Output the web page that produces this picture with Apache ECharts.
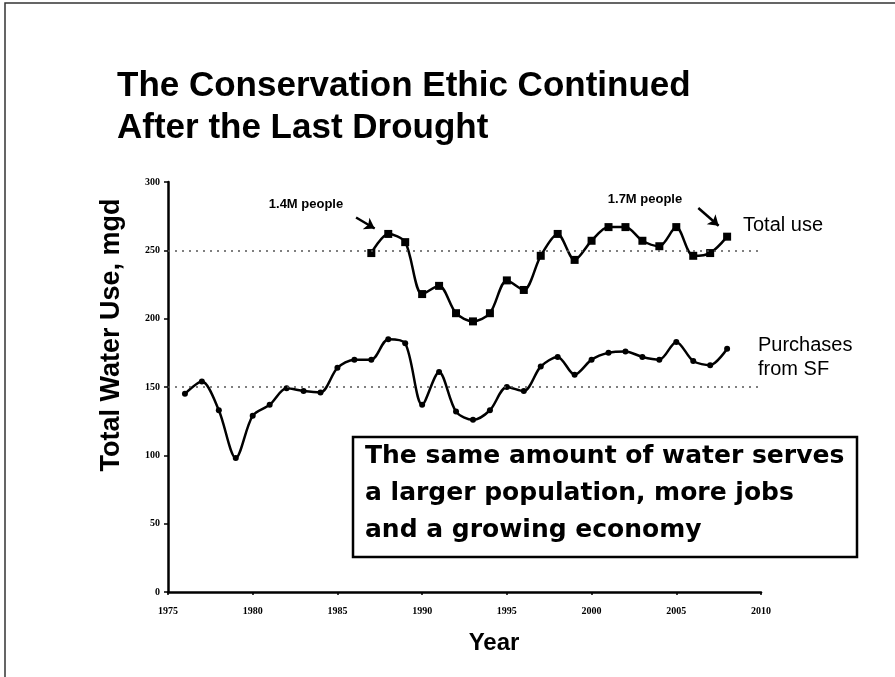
<!DOCTYPE html>
<html>
<head>
<meta charset="utf-8">
<script src="https://cdn.jsdelivr.net/npm/echarts@6/dist/echarts.min.js"></script>
<style>
  html, body { margin: 0; padding: 0; background: #fff; }
  #chart { width: 895px; height: 677px; }
</style>
</head>
<body>
<div id="chart"></div>
<script>
// purchases from SF, mgd
const purchaseYears = [1976, 1977, 1978, 1979, 1980, 1981, 1982, 1983, 1984, 1985, 1986,
  1987, 1988, 1989, 1990, 1991, 1992, 1993, 1994, 1995, 1996, 1997, 1998, 1999,
  2000, 2001, 2002, 2003, 2004, 2005, 2006, 2007, 2008];
const purchases = [145, 154, 133, 98, 129, 137, 149, 147, 146, 164, 170,
  170, 185, 182, 137, 161, 132, 126, 133, 150, 147, 165, 172, 159,
  170, 175, 176, 172, 170, 183, 169, 166, 178];

// total use, mgd
const totalYears = [1987, 1988, 1989, 1990, 1991, 1992, 1993, 1994, 1995, 1996, 1997,
  1998, 1999, 2000, 2001, 2002, 2003, 2004, 2005, 2006, 2007, 2008];
const totalUse = [248, 262, 256, 218, 224, 204, 198, 204, 228, 221, 246,
  262, 243, 257, 267, 267, 257, 253, 267, 246, 248, 260];

const refLines = [150, 250];
const arrows = [
  [[1986.1, 274], [1987.2, 266]],
  [[2006.3, 281], [2007.5, 268]]
];

const chart = echarts.init(document.getElementById("chart"));

const pair = (xs, ys) => xs.map((x, i) => [x, ys[i]]);

chart.setOption({
  animation: false,
  backgroundColor: "#fff",
  grid: { left: 168, right: 134, top: 182, bottom: 85 },
  xAxis: {
    type: "value",
    min: 1975,
    max: 2010,
    interval: 5,
    axisLine: { onZero: false, lineStyle: { color: "#000", width: 2.5 } },
    axisTick: { show: true, length: 3, lineStyle: { color: "#000", width: 1.5 } },
    axisLabel: {
      color: "#000",
      fontWeight: "bold",
      fontSize: 10,
      fontFamily: "Liberation Serif",
      margin: 14,
      formatter: (v) => String(v)
    },
    splitLine: { show: false }
  },
  yAxis: {
    type: "value",
    min: 0,
    max: 300,
    interval: 50,
    axisLine: { show: true, lineStyle: { color: "#000", width: 2.5 } },
    axisTick: { show: true, length: 4, lineStyle: { color: "#000", width: 1.5 } },
    axisLabel: {
      color: "#000",
      fontWeight: "bold",
      fontSize: 10,
      fontFamily: "Liberation Serif",
      margin: 8
    },
    splitLine: { show: false }
  },
  series: [
    {
      name: "Purchases from SF",
      type: "line",
      data: pair(purchaseYears, purchases),
      smooth: 0.3,
      symbol: "circle",
      symbolSize: 6,
      itemStyle: { color: "#000" },
      lineStyle: { color: "#000", width: 2.5 },
      markLine: {
        silent: true,
        symbol: "none",
        label: { show: false },
        lineStyle: { color: "#555", type: [2, 5], width: 1.5 },
        data: refLines.map((v) => ({ yAxis: v }))
      }
    },
    {
      name: "Total use",
      type: "line",
      data: pair(totalYears, totalUse),
      smooth: 0.3,
      symbol: "rect",
      symbolSize: 8,
      itemStyle: { color: "#000" },
      lineStyle: { color: "#000", width: 2.5 },
      markLine: {
        silent: true,
        symbol: ["none", "arrow"],
        symbolSize: 10,
        label: { show: false },
        lineStyle: { color: "#000", type: "solid", width: 2.5 },
        data: arrows.map(([a, b]) => [{ coord: a }, { coord: b }])
      }
    }
  ],
  graphic: [
    {
      type: "rect",
      shape: { x: 5, y: 3, width: 920, height: 720 },
      style: { fill: "none", stroke: "#333", lineWidth: 1.5 },
      silent: true
    },
    {
      type: "text",
      left: 117,
      top: 65,
      style: {
        text: "The Conservation Ethic Continued\nAfter the Last Drought",
        font: "bold 35px 'Liberation Sans'",
        lineHeight: 42,
        fill: "#000"
      }
    },
    {
      type: "text",
      x: 112,
      y: 335,
      rotation: Math.PI / 2,
      style: {
        text: "Total Water Use, mgd",
        font: "bold 27px 'Liberation Sans'",
        align: "center",
        verticalAlign: "middle",
        fill: "#000"
      }
    },
    {
      type: "text",
      x: 494,
      y: 643,
      style: {
        text: "Year",
        font: "bold 24px 'Liberation Sans'",
        align: "center",
        verticalAlign: "middle",
        fill: "#000"
      }
    },
    {
      type: "text",
      x: 306,
      y: 204,
      style: {
        text: "1.4M people",
        font: "bold 13px 'Liberation Sans'",
        align: "center",
        verticalAlign: "middle",
        fill: "#000"
      }
    },
    {
      type: "text",
      x: 645,
      y: 199,
      style: {
        text: "1.7M people",
        font: "bold 13px 'Liberation Sans'",
        align: "center",
        verticalAlign: "middle",
        fill: "#000"
      }
    },
    {
      type: "text",
      x: 743,
      y: 225,
      style: {
        text: "Total use",
        font: "20px 'Liberation Sans'",
        verticalAlign: "middle",
        fill: "#000"
      }
    },
    {
      type: "text",
      x: 758,
      y: 333,
      style: {
        text: "Purchases\nfrom SF",
        font: "20px 'Liberation Sans'",
        lineHeight: 24,
        fill: "#000"
      }
    },
    {
      type: "rect",
      shape: { x: 353, y: 437, width: 504, height: 120 },
      style: { fill: "#fff", stroke: "#000", lineWidth: 2.5 },
      z: 10
    },
    {
      type: "text",
      x: 365,
      y: 438,
      z: 11,
      style: {
        text: "The same amount of water serves\na larger population, more jobs\nand a growing economy",
        font: "bold 25px 'DejaVu Sans'",
        lineHeight: 37,
        fill: "#000"
      }
    }
  ]
});
</script>
</body>
</html>
